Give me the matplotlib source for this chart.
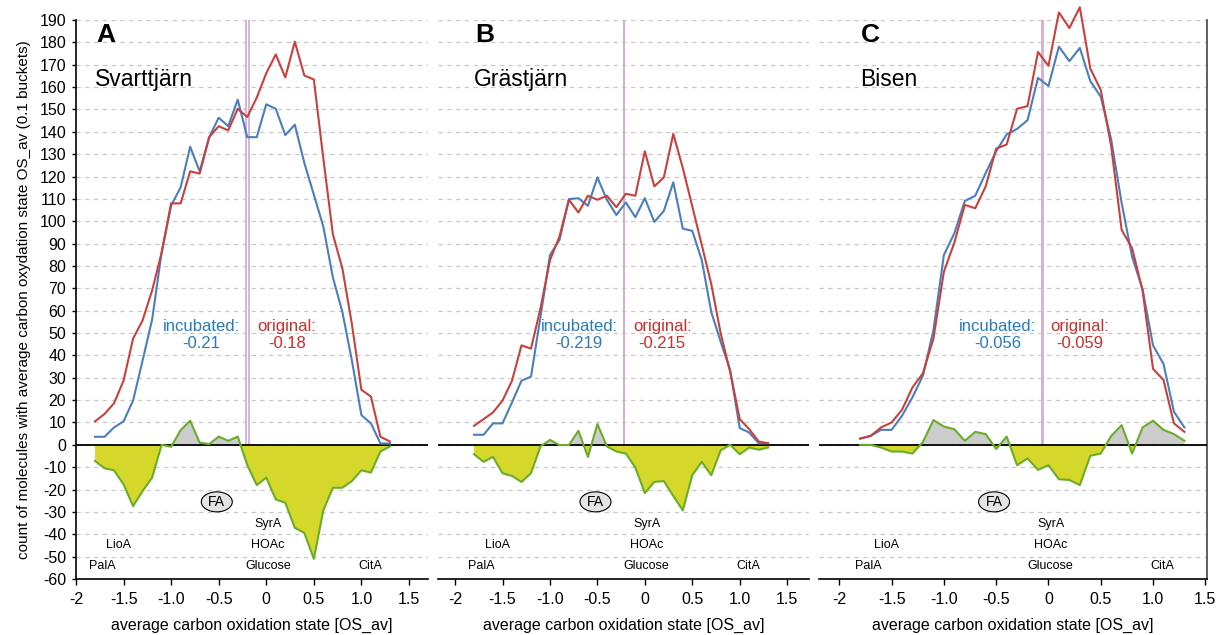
import matplotlib.pyplot as plt
from matplotlib.patches import Ellipse
import numpy as np

plt.rcParams['font.family'] = ['Liberation Sans', 'DejaVu Sans']
plt.rcParams['axes.unicode_minus'] = False

# bucket centres (average carbon oxidation state)
os_av = [-1.8, -1.7, -1.6, -1.5, -1.4, -1.3, -1.2, -1.1, -1.0, -0.9, -0.8, -0.7, -0.6, -0.5, -0.4, -0.3,
         -0.2, -0.1, 0.0, 0.1, 0.2, 0.3, 0.4, 0.5, 0.6, 0.7, 0.8, 0.9, 1.0, 1.1, 1.2, 1.3]

# A - Svarttjärn
a_orig = [10.5, 13.8, 18.6, 28.7, 47.5, 55.7, 69, 86, 108, 108, 122.3, 121.3, 137.6, 142.5, 140.6, 150.3,
          146.6, 155.3, 166.2, 174.6, 164.3, 180.3, 165.2, 163.4, 128, 94.2, 78.9, 54, 24.6, 21.6, 3.6, 1.5]
a_inc = [3.6, 3.6, 7.8, 10.5, 19.8, 37.7, 56, 86, 107, 115.2, 133.3, 122.3, 137.6, 146.3, 142.5, 154.4,
         137.6, 137.6, 152.3, 150.3, 138.5, 143.2, 126.1, 111.9, 97.6, 74.9, 59.4, 37.7, 13.3, 9.6, 0.6, 0.6]
a_diff = [-7.2, -10.5, -11.4, -17.7, -27.4, -20.7, -14.7, 0, -0.9, 6.6, 10.8, 1.0, 0.3, 3.7, 1.8, 3.7,
          -9, -18, -14.7, -24.4, -25.9, -37.1, -39.4, -51, -29.3, -19.2, -19.2, -16.2, -11.4, -12.4, -3, -0.7]

# B - Grästjärn
b_orig = [8.5, 11.5, 14.5, 19.8, 28.7, 44.5, 43, 61, 82.6, 93.1, 109.6, 103.9, 111.4, 109.6, 111.4, 106.3,
          112.3, 111.4, 131.3, 115.6, 119.6, 139.1, 123.8, 106.6, 89.4, 71.9, 49.7, 32.5, 11.5, 7, 1.5, 0.7]
b_inc = [4.5, 4.5, 9.6, 9.6, 19, 28.7, 30.5, 57.2, 84.9, 91.6, 109.9, 110.3, 106.9, 119.6, 109.6, 102.8,
         108.4, 101.8, 110.3, 99.7, 104.6, 117.4, 96.7, 95.7, 82.6, 59.4, 46, 33.2, 7.5, 5.5, 0.7, 0.7]
b_diff = [-4.2, -7.6, -5.4, -12.7, -13.9, -16.6, -12.7, -0.7, 2.2, -0.1, -0.1, 6.3, -5.4, 9.3, -0.7, -3,
          -3.9, -10.2, -21.6, -16.6, -16.2, -22.9, -29.3, -13.6, -7.6, -13.6, -2.4, 0, -4.2, -1.2, -2.2, -1.2]

# C - Bisen
c_orig = [2.8, 4.0, 7.8, 10, 15.7, 25.7, 32, 47.5, 77.4, 90.4, 107.3, 105.8, 115.6, 132.5, 134.3, 150.3,
          151.5, 175.7, 169.5, 193.4, 186.4, 195.7, 168.3, 158.7, 133.5, 96.1, 87.9, 69, 34, 29, 9.6, 5.8]
c_inc = [2.8, 4.0, 6.7, 6.7, 13, 21.3, 31, 51.2, 84.9, 94.6, 109.1, 111.4, 121.6, 131.3, 138.8, 141.3,
         145.2, 164.1, 160.5, 178.1, 171.6, 177.5, 162.7, 155.7, 136.5, 108.1, 84.1, 69.5, 44.5, 36.2, 14.8, 7.8]
c_diff = [0, 0, -1.2, -3, -3, -3.9, 1.3, 11.1, 8.2, 7, 1.8, 5.8, 4.8, -1.9, 3.7, -9.1,
          -6.1, -11.2, -9.1, -15.4, -15.7, -18, -4.9, -3.9, 4, 8.8, -3.9, 7.8, 10.8, 6.7, 4.8, 1.8]

letters = ['A', 'B', 'C']
lakes = ['Svarttjärn', 'Grästjärn', 'Bisen']
mean_inc = [-0.21, -0.219, -0.056]
mean_orig = [-0.18, -0.215, -0.059]
mean_inc_txt = ['-0.21', '-0.219', '-0.056']
mean_orig_txt = ['-0.18', '-0.215', '-0.059']

compounds = ['PalA', 'LioA', 'Glucose', 'HOAc', 'SyrA', 'CitA']
compound_x = [-1.72, -1.55, 0.02, 0.02, 0.02, 1.09]
compound_y = [-54, -45, -54, -45, -35.5, -54]

xtick_vals = [-2, -1.5, -1.0, -0.5, 0, 0.5, 1.0, 1.5]
xtick_txt = ['-2', '-1.5', '-1.0', '-0.5', '0', '0.5', '1.0', '1.5']

originals = [a_orig, b_orig, c_orig]
incubated = [a_inc, b_inc, c_inc]
diffs = [a_diff, b_diff, c_diff]

BLUE = '#4a7ebf'
RED = '#c8413d'
BLUE_T = '#2a7abd'
RED_T = '#c7302c'
GREEN = '#69ad2a'
YELLOW = '#d5d72a'
GREY = '#cccccc'
PINK = '#d6acd8'

W, H = 1216, 635
fig = plt.figure(figsize=(W / 100, H / 100), dpi=100)
# axes rectangles in pixels [left, bottom, width, height] and x-limits per panel
rects_px = [[76, 56, 352, 559], [438, 56, 371, 559], [819, 56, 388, 559]]
xlims = [(-2.0, 1.70), (-2.18, 1.73), (-2.194, 1.516)]

x = np.array(os_av)
for i in range(3):
    l, b, w, h = rects_px[i]
    ax = fig.add_axes([l / W, b / H, w / W, h / H])
    ax.set_xlim(*xlims[i])
    ax.set_ylim(-60, 190)

    ax.set_yticks(range(-60, 200, 10))
    ax.yaxis.grid(True, linestyle=(0, (3.5, 3.5)), color='#c9c9c9', lw=0.9)
    ax.set_axisbelow(True)

    d = np.array(diffs[i])
    ax.fill_between(x, d, 0, where=d >= 0, interpolate=True, color=GREY, lw=0, zorder=2)
    ax.fill_between(x, d, 0, where=d <= 0, interpolate=True, color=YELLOW, lw=0, zorder=2)
    ax.axhline(0, color='black', lw=1.3, zorder=3)
    ax.plot(x, d, color=GREEN, lw=1.5, zorder=4)

    for m in (mean_inc[i], mean_orig[i]):
        ax.plot([m, m], [0, 190], color=PINK, lw=1.3, zorder=2.5)

    ax.plot(x, incubated[i], color=BLUE, lw=1.5, zorder=5, clip_on=False)
    ax.plot(x, originals[i], color=RED, lw=1.5, zorder=5, clip_on=False)

    ax.annotate('incubated:\n' + mean_inc_txt[i], xy=(mean_inc[i], 49), xytext=(-4.5, 0),
                textcoords='offset points', ha='right', va='center', multialignment='center',
                fontsize=12, color=BLUE_T, linespacing=1.15)
    ax.annotate('original:\n' + mean_orig_txt[i], xy=(mean_orig[i], 49), xytext=(6, 0),
                textcoords='offset points', ha='left', va='center', multialignment='center',
                fontsize=12, color=RED_T, linespacing=1.15)

    ax.text(-1.79, 183.5, letters[i], fontsize=19, fontweight='bold', ha='left', va='center')
    ax.text(-1.80, 163.5, lakes[i], fontsize=16.5, ha='left', va='center')

    for name, cx, cy in zip(compounds, compound_x, compound_y):
        ax.text(cx, cy, name, fontsize=9, ha='center', va='center')

    # FA marker: ellipse about 31 x 20 px
    px_x = w / (xlims[i][1] - xlims[i][0])
    px_y = h / 250
    ax.add_patch(Ellipse((-0.52, -25.5), 31 / px_x, 20 / px_y, fc='#e4e4e4', ec='black', lw=0.8, zorder=3))
    ax.text(-0.52, -25.5, 'FA', fontsize=10, ha='center', va='center', zorder=4)

    ax.set_xticks(xtick_vals)
    ax.set_xticklabels(xtick_txt, fontsize=11.5)
    ax.tick_params(axis='x', length=4, width=1, pad=5)
    ax.set_xlabel('average carbon oxidation state [OS_av]', fontsize=11.5, labelpad=8)

    for s in ['top', 'right', 'left']:
        ax.spines[s].set_visible(False)
    ax.spines['bottom'].set_linewidth(1.2)

    if i == 0:
        ax.spines['left'].set_visible(True)
        ax.spines['left'].set_linewidth(1.2)
        ax.tick_params(axis='y', length=3, width=1, pad=4, labelsize=11.5)
        ax.set_ylabel('count of molecules with average carbon oxydation state OS_av (0.1 buckets)',
                      fontsize=11, labelpad=6)
    else:
        ax.tick_params(axis='y', length=0, labelleft=False)
    if i == 2:
        ax.spines['right'].set_visible(True)
        ax.spines['right'].set_color('#444444')
        ax.spines['right'].set_linewidth(1.2)

fig.savefig('out.png', dpi=100)
